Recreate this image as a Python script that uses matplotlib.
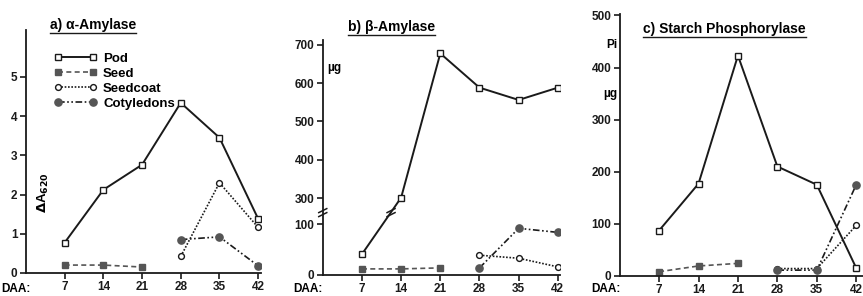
import numpy as np
import matplotlib
matplotlib.use("Agg")
import matplotlib.pyplot as plt
from matplotlib.lines import Line2D

plt.rcParams['font.family'] = ['Liberation Sans', 'DejaVu Sans']
plt.rcParams['font.weight'] = 'bold'
plt.rcParams['font.size'] = 8

daa = [7, 14, 21, 28, 35, 42]
labels = ['Pod', 'Seed', 'Seedcoat', 'Cotyledons']

# a) alpha-amylase, delta A620
a_pod = [0.77, 2.12, 2.76, 4.34, 3.45, 1.38]
a_seed = [0.2, 0.2, 0.15]
a_coat = [0.42, 2.3, 1.16]
a_coty = [0.85, 0.92, 0.18]

# b) beta-amylase, ug (broken axis)
b_pod = [41, 302, 677, 588, 556, 588]
b_seed = [12, 12, 14]
b_coat = [39, 33, 16]
b_coty = [14, 92, 84]

# c) starch phosphorylase, ug Pi
c_pod = [87, 177, 423, 210, 175, 15]
c_seed = [8, 19, 24]
c_coat = [14, 14, 97]
c_coty = [11, 11, 175]

ink = '#1a1a1a'
fill = '#555555'
styles = [
    dict(ls='-', marker='s', mfc='white', mec=ink, ms=4.8, lw=1.4),
    dict(ls=(0, (3, 2)), marker='s', mfc=fill, mec=fill, ms=4.8, lw=1.2),
    dict(ls=(0, (1, 1)), marker='o', mfc='white', mec=ink, ms=4.2, lw=1.2),
    dict(ls=(0, (4, 1.5, 1, 1.5, 1, 1.5)), marker='o', mfc=fill, mec=fill, ms=5.2, lw=1.2),
]

fig = plt.figure(figsize=(8.63, 2.96), dpi=100)
ax_a = fig.add_axes([0.030, 0.078, 0.273, 0.821])
ax_b = fig.add_axes([0.374, 0.071, 0.275, 0.794])
ax_c = fig.add_axes([0.718, 0.068, 0.282, 0.885])


def draw(ax, pod, seed, coat, coty):
    ax.plot(daa, pod, color=ink, **styles[0], label=labels[0])
    ax.plot(daa[:3], seed, color=fill, **styles[1], label=labels[1])
    ax.plot(daa[3:], coat, color=ink, **styles[2], label=labels[2])
    ax.plot(daa[3:], coty, color=ink, **styles[3], label=labels[3])
    for s in ['top', 'right']:
        ax.spines[s].set_visible(False)
    for s in ['left', 'bottom']:
        ax.spines[s].set_linewidth(1.3)
        ax.spines[s].set_color(ink)
    ax.set_xticks(daa)
    ax.tick_params(direction='out', length=4, width=1.2, colors=ink, pad=2,
                   labelsize=8.5)


draw(ax_a, a_pod, a_seed, a_coat, a_coty)
ax_a.set_xlim(0, 42.6)
ax_a.set_ylim(0, 6.2)
ax_a.set_yticks([0, 1, 2, 3, 4, 5])
ax_a.legend(loc='upper left', bbox_to_anchor=(0.07, 0.955), frameon=False,
            numpoints=2, handlelength=3.2, handletextpad=0.5, labelspacing=0.2,
            prop=dict(size=9.5, weight='bold'))
ax_a.text(0.075, 0.33, r'$\Delta$A$_{620}$', transform=ax_a.transAxes,
          rotation=90, ha='center', va='center', fontsize=9.5)

# piecewise scale for the broken axis in b
bx = [-1000, 0, 100, 300, 3000]
bt = [-1000, 0, 100, 151, 151 + 2700 * 0.758]


def fwd(v):
    return np.interp(v, bx, bt)


def inv(t):
    return np.interp(t, bt, bx)


ax_b.set_yscale('function', functions=(fwd, inv))
draw(ax_b, b_pod, b_seed, b_coat, b_coty)
ax_b.set_xlim(0, 42.4)
ax_b.set_ylim(0, 712)
ax_b.set_yticks([0, 100, 300, 400, 500, 600, 700])
ax_b.text(0.02, 0.88, 'µg', transform=ax_b.transAxes, ha='left', va='center', fontsize=8.5)
# break marks on axis and on the pod line
for xd, yd in [(0, 190), (12.2, 190)]:
    px, py = ax_b.transData.transform((xd, yd))
    for dy in (-2, 2):
        fig.add_artist(Line2D([(px - 4) / 863, (px + 4) / 863],
                              [(py - 2 + dy) / 296, (py + 2 + dy) / 296],
                              color=ink, lw=1.1))

draw(ax_c, c_pod, c_seed, c_coat, c_coty)
ax_c.set_xlim(0, 43.2)
ax_c.set_ylim(0, 503)
ax_c.set_yticks([0, 100, 200, 300, 400, 500])
fig.text(612 / 863, 1 - 45 / 296, 'Pi', ha='center', va='center', fontsize=8.5)
fig.text(610 / 863, 1 - 94 / 296, 'µg', ha='center', va='center', fontsize=8.5)

for xl in [1, 293, 591]:
    fig.text(xl / 863, 1 - 289 / 296, 'DAA:', ha='left', va='center', fontsize=8.5)

titles = [('a) α-Amylase', 50, 25), ('b) β-Amylase', 348, 27), ('c) Starch Phosphorylase', 643, 29)]
txts = []
for t, x, y in titles:
    txts.append(fig.text(x / 863, 1 - y / 296, t, ha='left', va='center', fontsize=10))

fig.canvas.draw()
r = fig.canvas.get_renderer()
for tx in txts:
    bb = tx.get_window_extent(r)
    fig.add_artist(Line2D([bb.x0 / 863, bb.x1 / 863], [(bb.y0 - 1) / 296] * 2,
                          color=ink, lw=1.0))

fig.savefig('out.png', dpi=100)
